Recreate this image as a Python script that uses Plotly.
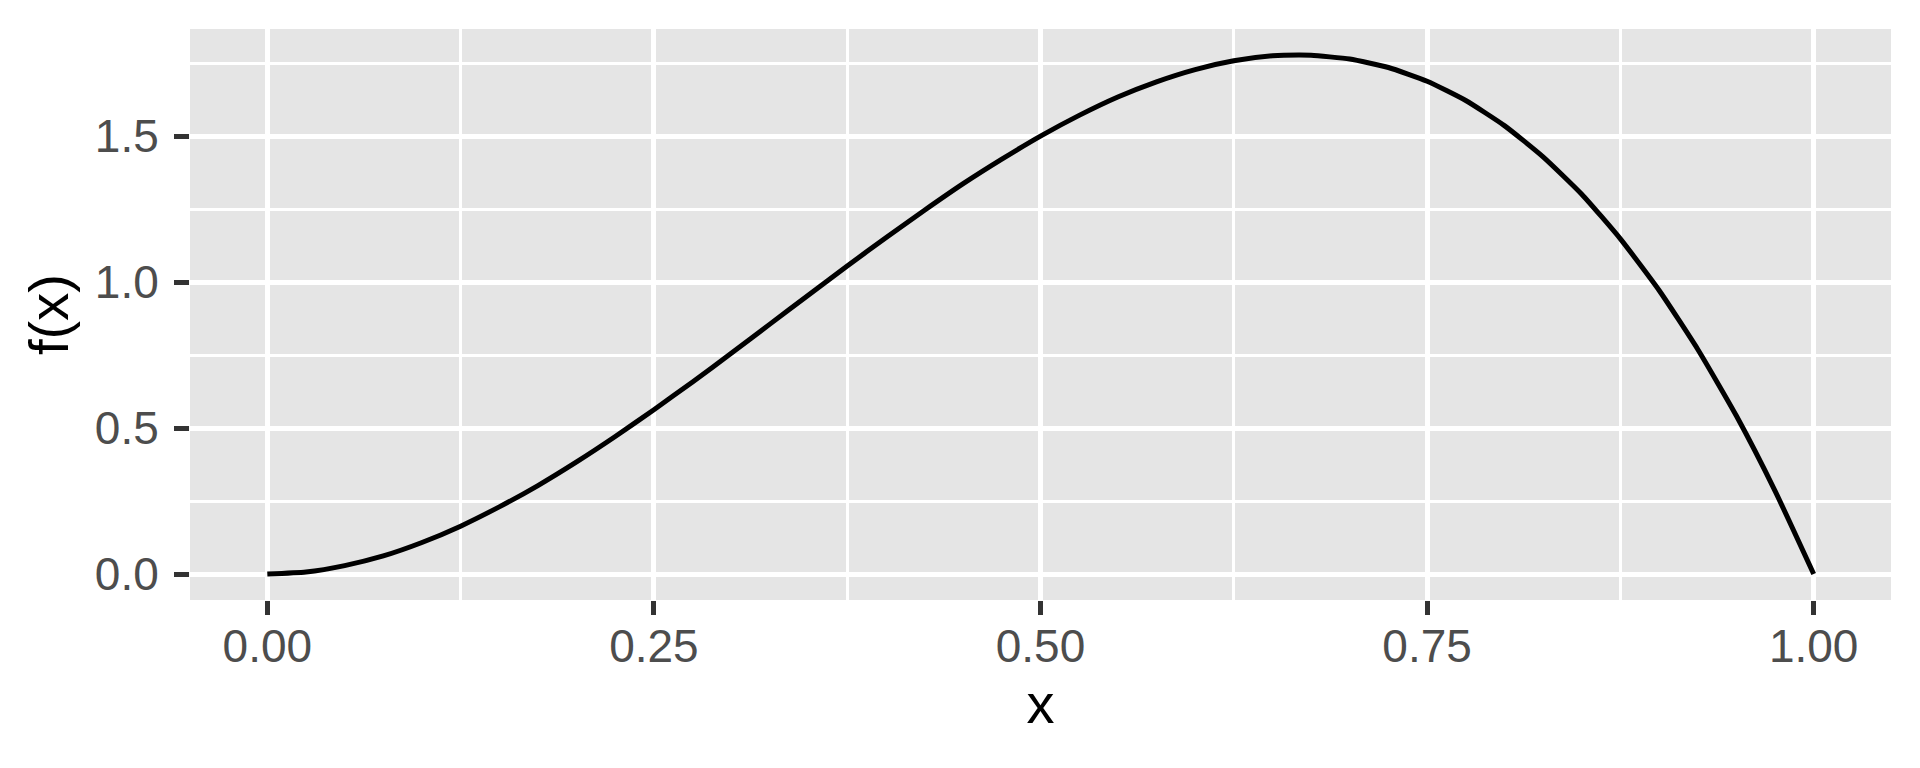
import plotly.graph_objects as go

# values
x_vals = [0.000, 0.025, 0.050, 0.075, 0.100, 0.125, 0.150, 0.175, 0.200, 0.225,
          0.250, 0.275, 0.300, 0.325, 0.350, 0.375, 0.400, 0.425, 0.450, 0.475,
          0.500, 0.525, 0.550, 0.575, 0.600, 0.625, 0.650, 0.667, 0.675, 0.700,
          0.725, 0.750, 0.775, 0.800, 0.825, 0.850, 0.875, 0.900, 0.925, 0.950,
          0.975, 1.000]
fx_vals = [0.000, 0.007, 0.029, 0.062, 0.108, 0.164, 0.230, 0.303, 0.384, 0.471,
           0.563, 0.658, 0.756, 0.856, 0.956, 1.055, 1.152, 1.246, 1.337, 1.421,
           1.500, 1.571, 1.634, 1.686, 1.728, 1.758, 1.775, 1.778, 1.777, 1.764,
           1.735, 1.688, 1.622, 1.536, 1.429, 1.301, 1.148, 0.972, 0.770, 0.542,
           0.285, 0.000]

x_ticks = [0.00, 0.25, 0.50, 0.75, 1.00]
x_tick_labels = ["0.00", "0.25", "0.50", "0.75", "1.00"]
y_ticks = [0.0, 0.5, 1.0, 1.5]
y_tick_labels = ["0.0", "0.5", "1.0", "1.5"]

FONT = "Liberation Sans, Arial, Helvetica, sans-serif"

fig = go.Figure()
fig.add_trace(go.Scatter(x=x_vals, y=fx_vals, mode="lines",
                         line=dict(color="black", width=5, shape="spline", smoothing=0.5),
                         showlegend=False, hoverinfo="skip"))

ymax = max(fx_vals)
fig.update_layout(
    width=1912, height=760,
    margin=dict(l=182, r=29, t=21, b=168),
    paper_bgcolor="white",
    plot_bgcolor="#E5E5E5",
    font=dict(family=FONT),
    xaxis=dict(
        range=[-0.05, 1.05],
        tickmode="array", tickvals=x_ticks, ticktext=x_tick_labels,
        ticks="outside", ticklen=14, tickwidth=5, tickcolor="#333333",
        tickfont=dict(size=46, color="#4D4D4D", family=FONT),
        ticklabelstandoff=-8,
        showgrid=True, gridcolor="white", gridwidth=5,
        minor=dict(tickvals=[0.125, 0.375, 0.625, 0.875], showgrid=True,
                   gridcolor="white", gridwidth=2.5, ticks=""),
        zeroline=False, showline=False,
        title=dict(text="x", font=dict(size=56, color="black", family=FONT), standoff=8),
        automargin=False,
    ),
    yaxis=dict(
        range=[-0.05 * ymax, 1.05 * ymax],
        tickmode="array", tickvals=y_ticks, ticktext=y_tick_labels,
        ticks="outside", ticklen=15, tickwidth=5, tickcolor="#333333",
        tickfont=dict(size=46, color="#4D4D4D", family=FONT),
        ticklabelstandoff=6,
        showgrid=True, gridcolor="white", gridwidth=5,
        minor=dict(tickvals=[0.25, 0.75, 1.25, 1.75], showgrid=True,
                   gridcolor="white", gridwidth=2.5, ticks=""),
        zeroline=False, showline=False,
        title=dict(text="f(x)", font=dict(size=56, color="black", family=FONT), standoff=8),
        automargin=False,
    ),
)

fig.write_html("out.html")
